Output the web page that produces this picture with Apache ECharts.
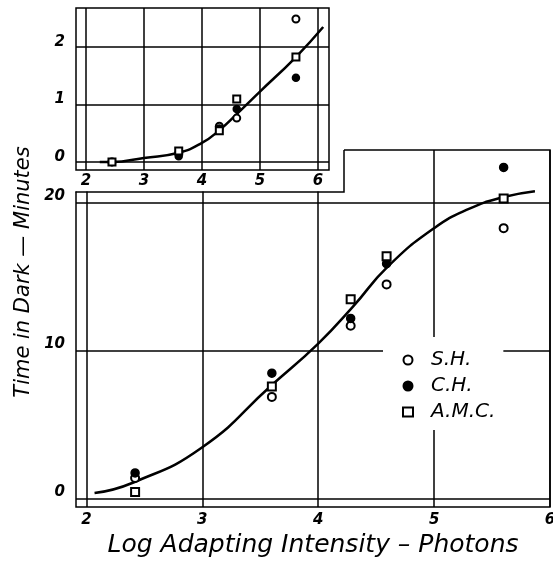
<!DOCTYPE html>
<html>
<head>
<meta charset="utf-8">
<script src="https://cdn.jsdelivr.net/npm/echarts@6/dist/echarts.min.js"></script>
<style>
  html, body { margin: 0; padding: 0; background: #fff; }
  #chart { width: 553px; height: 565px; }
</style>
</head>
<body>
<div id="chart"></div>
<script>
// main chart (0 - 20 minutes)
const mainX = [2.42, 3.6, 4.28, 4.59, 5.6]
const mainSH = [1.42, 6.9, 11.7, 14.5, 18.3]
const mainCH = [1.76, 8.5, 12.2, 15.9, 22.4]
const mainAMC = [0.47, 7.6, 13.5, 16.4, 20.3]
const mainCurveX = [2.07, 2.4, 3.0, 3.6, 4.0, 4.3, 4.6, 5.0, 5.3, 5.6, 5.87]
const mainCurveY = [0.4, 1.1, 3.5, 7.7, 10.5, 13.0, 15.7, 18.3, 19.6, 20.4, 20.8]
const mainXTicks = [2, 3, 4, 5, 6]
const mainYTicks = [0, 10, 20]

// inset (0 - 2 minutes)
const insetX = [2.45, 3.6, 4.3, 4.6, 5.62]
const insetSH = [0.0, 0.15, 0.62, 0.76, 2.48]
const insetCH = [0.0, 0.1, 0.58, 0.92, 1.46]
const insetAMC = [0.0, 0.19, 0.54, 1.09, 1.82]
const insetCurveX = [2.24, 2.45, 3.0, 3.6, 4.0, 4.3, 4.6, 5.0, 5.62, 6.09]
const insetCurveY = [0.0, 0.0, 0.07, 0.16, 0.33, 0.55, 0.83, 1.22, 1.82, 2.34]
const insetXTicks = [2, 3, 4, 5, 6]
const insetYTicks = [0, 1, 2]

const names = ['S.H.', 'C.H.', 'A.M.C.']
const font = '"DejaVu Sans", sans-serif'

const zip = (xs, ys) => xs.map((x, i) => [x, ys[i]])

const labelStyle = {
  color: '#000',
  fontSize: 15,
  fontStyle: 'italic',
  fontWeight: 'bold',
  fontFamily: font
}
const gridLine = {show: true, lineStyle: {color: '#000', width: 1.5}}

function axis(gridIndex, min, max, ticks, extra) {
  return Object.assign({
    type: 'value',
    gridIndex: gridIndex,
    min: min,
    max: max,
    axisLine: {show: false},
    axisTick: {show: false, customValues: ticks},
    splitLine: gridLine,
    z: gridIndex === 1 ? 4 : 0
  }, extra)
}

function points(name, data, gridIndex) {
  const sym = {'S.H.': 'emptyCircle', 'C.H.': 'circle', 'A.M.C.': 'emptyRect'}[name]
  return {
    name: name,
    type: 'scatter',
    xAxisIndex: gridIndex,
    yAxisIndex: gridIndex,
    data: data,
    symbol: sym,
    symbolSize: gridIndex === 1 ? 7 : 8,
    itemStyle: {color: '#000', borderColor: '#000', borderWidth: 1.5, opacity: 1},
    z: gridIndex === 1 ? 6 : 3
  }
}

function curve(data, gridIndex) {
  return {
    type: 'line',
    xAxisIndex: gridIndex,
    yAxisIndex: gridIndex,
    data: data,
    smooth: 0.5,
    showSymbol: false,
    lineStyle: {color: '#000', width: 2.5},
    z: gridIndex === 1 ? 5 : 2
  }
}

const chart = echarts.init(document.getElementById('chart'))
const option = {
  animation: false,
  backgroundColor: '#fff',
  grid: [
    {left: 76, right: 3, top: 150, bottom: 58, outerBoundsMode: 'none', show: true, borderColor: '#000', borderWidth: 1.5, z: 0},
    {left: 76, right: 224, top: 8, bottom: 395, outerBoundsMode: 'none', show: true, borderColor: '#000', borderWidth: 1.5, z: 4}
  ],
  xAxis: [
    axis(0, 1.91, 6.0, mainXTicks, {
      axisLabel: Object.assign({customValues: mainXTicks, margin: 6}, labelStyle),
      name: 'Log Adapting Intensity – Photons',
      nameLocation: 'middle',
      nameGap: 26,
      nameTextStyle: {color: '#000', fontSize: 25, fontStyle: 'italic', fontFamily: font}
    }),
    axis(1, 1.83, 6.19, insetXTicks, {
      axisLabel: Object.assign({customValues: insetXTicks, margin: 4}, labelStyle)
    })
  ],
  yAxis: [
    axis(0, -0.54, 23.58, mainYTicks, {
      axisLabel: Object.assign({customValues: mainYTicks, margin: 11, verticalAlign: 'bottom', lineHeight: 14}, labelStyle)
    }),
    axis(1, -0.14, 2.67, insetYTicks, {
      axisLabel: Object.assign({customValues: insetYTicks, margin: 11, verticalAlign: 'bottom', lineHeight: 10}, labelStyle)
    })
  ],
  legend: {
    data: names,
    orient: 'vertical',
    left: 383,
    top: 337,
    padding: [13, 8, 8, 19],
    backgroundColor: '#fff',
    itemWidth: 10,
    itemHeight: 9,
    itemGap: 6,
    textStyle: {color: '#000', fontSize: 20, lineHeight: 20, fontStyle: 'italic', fontFamily: font, padding: [0, 0, 0, 13]},
    z: 4
  },
  graphic: [
    // white cut-out where the inset sits over the main frame
    {type: 'rect', shape: {x: 70, y: 140, width: 274, height: 51.5}, style: {fill: '#fff'}, z: 3, silent: true},
    {type: 'polyline', shape: {points: [[75.5, 192], [344, 192], [344, 150]]}, style: {stroke: '#000', lineWidth: 1.5, fill: null}, z: 3, silent: true},
    {
      type: 'text', x: 24, y: 272, rotation: Math.PI / 2, z: 3, silent: true,
      style: {text: 'Time in Dark — Minutes', fill: '#000', fontSize: 21, fontStyle: 'italic', fontFamily: font, align: 'center', verticalAlign: 'middle'}
    }
  ],
  series: [
    curve(zip(mainCurveX, mainCurveY), 0),
    points('S.H.', zip(mainX, mainSH), 0),
    points('C.H.', zip(mainX, mainCH), 0),
    points('A.M.C.', zip(mainX, mainAMC), 0),
    curve(zip(insetCurveX, insetCurveY), 1),
    points('S.H.', zip(insetX, insetSH), 1),
    points('C.H.', zip(insetX, insetCH), 1),
    points('A.M.C.', zip(insetX, insetAMC), 1)
  ]
}
chart.setOption(option)
</script>
</body>
</html>
